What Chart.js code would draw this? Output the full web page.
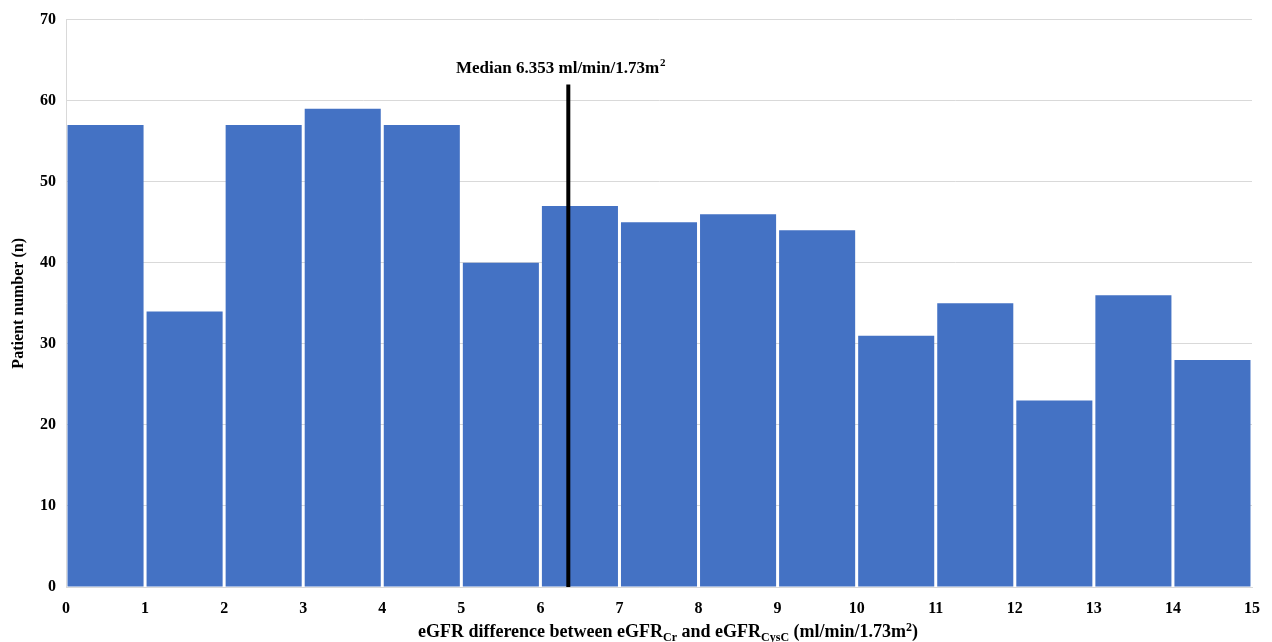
<!DOCTYPE html>
<html>
<head>
<meta charset="utf-8">
<script src="https://cdn.jsdelivr.net/npm/chart.js@4.4.0/dist/chart.umd.min.js"></script>
<style>
  html, body { margin: 0; padding: 0; background: #fff; }
  #wrap { position: relative; width: 1272px; height: 642px; }
  #xtitle {
    position: absolute; left: 0; width: 1272px; top: 621px; text-align: center;
    font: bold 18px "Liberation Serif", "Times New Roman", serif; color: #000;
    padding-left: 64px; box-sizing: border-box; line-height: 20px;
  }
  #xtitle sub { font-size: 12px; vertical-align: -4px; line-height: 0; }
  #xtitle sup { font-size: 12px; vertical-align: 6px; line-height: 0; }
</style>
</head>
<body>
<div id="wrap">
  <canvas id="histChart" width="1272" height="642"></canvas>
  <div id="xtitle">eGFR difference between eGFR<sub>Cr</sub> and eGFR<sub>CysC</sub> (ml/min/1.73m<sup>2</sup>)</div>
</div>
<script>
const binStarts = [0, 1, 2, 3, 4, 5, 6, 7, 8, 9, 10, 11, 12, 13, 14];
const patientCounts = [57, 34, 57, 59, 57, 40, 47, 45, 46, 44, 31, 35, 23, 36, 28];
const medianValue = 6.353;
const medianLineTop = 62;
const medianLabel = 'Median 6.353 ml/min/1.73m';
const medianLabelSup = '2';

const serif = '"Liberation Serif", "Times New Roman", serif';

// label above the median line, with a raised "2"
const medianLabelPlugin = {
  id: 'medianLabel',
  afterDatasetsDraw(chart) {
    const ctx = chart.ctx;
    const x = chart.scales.x.getPixelForValue(medianValue);
    const y = chart.scales.y.getPixelForValue(medianLineTop) - 11;
    ctx.save();
    ctx.fillStyle = '#000';
    ctx.textBaseline = 'alphabetic';
    ctx.font = 'bold 17px ' + serif;
    const w1 = ctx.measureText(medianLabel).width;
    ctx.font = 'bold 11px ' + serif;
    const w2 = ctx.measureText(medianLabelSup).width;
    const left = x - 8 - (w1 + w2) / 2;
    ctx.font = 'bold 17px ' + serif;
    ctx.textAlign = 'left';
    ctx.fillText(medianLabel, left, y);
    ctx.font = 'bold 11px ' + serif;
    ctx.fillText(medianLabelSup, left + w1 + 1, y - 7);
    ctx.restore();
  }
};

const ctx = document.getElementById('histChart').getContext('2d');
new Chart(ctx, {
  type: 'bar',
  data: {
    datasets: [{
      type: 'line',
      data: [{ x: medianValue, y: 0 }, { x: medianValue, y: medianLineTop }],
      borderColor: '#000',
      borderWidth: 4,
      pointRadius: 0,
      order: 0
    }, {
      type: 'bar',
      data: binStarts.map((b, i) => ({ x: b + 0.5, y: patientCounts[i] })),
      backgroundColor: '#4472C4',
      barPercentage: 0.962,
      categoryPercentage: 1,
      order: 1
    }]
  },
  options: {
    responsive: false,
    animation: false,
    layout: { padding: { top: 19, right: 20, left: 0, bottom: 0 } },
    scales: {
      x: {
        type: 'linear',
        min: 0,
        max: 15,
        offset: false,
        grid: { display: false },
        border: { color: '#d9d9d9' },
        ticks: { stepSize: 1, color: '#000', font: { family: serif, size: 16, weight: 'bold' }, padding: 4 },
        afterFit(scale) { scale.height = 55; }
      },
      y: {
        min: 0,
        max: 70,
        grid: { color: '#d9d9d9', drawTicks: false },
        border: { color: '#d9d9d9' },
        ticks: { stepSize: 10, color: '#000', font: { family: serif, size: 16, weight: 'bold' }, padding: 10 },
        title: {
          display: true,
          text: 'Patient number (n)',
          color: '#000',
          font: { family: serif, size: 16, weight: 'bold' },
          padding: { top: 9, bottom: 0 }
        },
        afterFit(scale) { scale.width = 66; }
      }
    },
    plugins: {
      legend: { display: false },
      tooltip: { enabled: false }
    }
  },
  plugins: [medianLabelPlugin]
});
</script>
</body>
</html>
